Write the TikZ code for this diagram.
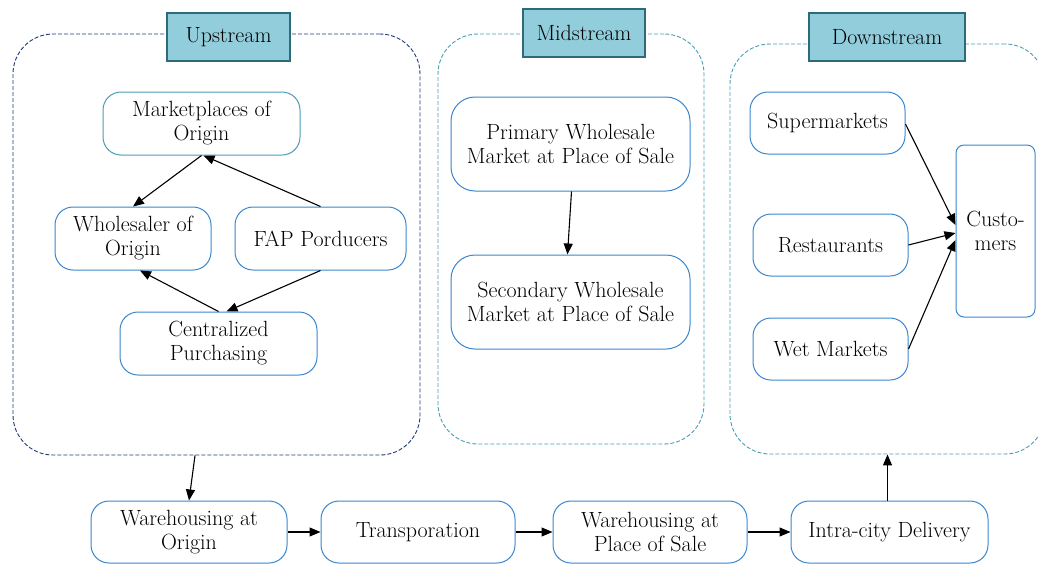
\documentclass[tikz,border=0pt]{standalone}
\usetikzlibrary{arrows.meta}
\definecolor{navyd}{HTML}{1F3A7A}
\definecolor{tealc}{HTML}{4A9DB5}
\definecolor{labfill}{HTML}{92CDDC}
\definecolor{labdraw}{HTML}{2E6B7A}
\definecolor{boxblue}{HTML}{3A87CF}
\tikzset{
  every node/.style={font=\fontsize{22}{24}\selectfont, align=center, inner sep=0pt},
  container/.style={draw, line width=0.9pt, dash pattern=on 4pt off 2pt, rounded corners=40pt},
  lab/.style={draw=labdraw, fill=labfill, line width=1.2pt},
  box/.style={draw=boxblue, line width=1pt, rounded corners=18pt, fill=white},
  arr/.style={-{Triangle[length=11pt,width=9pt]}, line width=1.1pt, black},
}
\begin{document}
\begin{tikzpicture}[x=1pt,y=-1pt]
\useasboundingbox (0,0) rectangle (1038,563);
\clip (0,0) rectangle (1038,563);
% containers
\node[container, draw=navyd, minimum width=407, minimum height=421] (up) at (216.5,244.5) {};
\node[container, draw=tealc, minimum width=266, minimum height=410] (mid) at (571,239) {};
\node[container, draw=tealc, minimum width=315, minimum height=410] (down) at (887.5,249) {};
% labels
\node[lab, minimum width=123, minimum height=48] (lup) at (228.5,37) {Upstream};
\node[lab, minimum width=122, minimum height=48] (lmid) at (584,33) {Midstream};
\node[lab, minimum width=156, minimum height=48] (ldown) at (887,37) {Downstream};
% upstream
\node[box, draw=tealc, minimum width=197, minimum height=63] (mk) at (201.5,123.5) {Marketplaces of\\Origin};
\node[box, minimum width=156, minimum height=63] (ws) at (133,238.5) {Wholesaler of\\Origin};
\node[box, minimum width=171, minimum height=63] (fap) at (320.5,238.5) {FAP Porducers};
\node[box, minimum width=197, minimum height=63] (cp) at (218.5,343.5) {Centralized\\Purchasing};
% midstream
\node[box, minimum width=239, minimum height=94, rounded corners=24pt] (pr) at (570.5,144) {Primary Wholesale\\Market at Place of Sale};
\node[box, minimum width=239, minimum height=94, rounded corners=24pt] (se) at (570.5,302) {Secondary Wholesale\\Market at Place of Sale};
% downstream
\node[box, minimum width=155, minimum height=62] (sm) at (827.5,123) {Supermarkets};
\node[box, minimum width=155, minimum height=62] (re) at (830.5,245) {Restaurants};
\node[box, minimum width=155, minimum height=62] (wm) at (830.5,349) {Wet Markets};
\node[box, minimum width=79, minimum height=172, rounded corners=8pt] (cu) at (995.5,231) {Custo-\\mers};
% bottom row
\node[box, minimum width=196, minimum height=62] (w1) at (189,532) {Warehousing at\\Origin};
\node[box, minimum width=194, minimum height=62] (tr) at (418,532) {Transporation};
\node[box, minimum width=194, minimum height=62] (w2) at (650,532) {Warehousing at\\Place of Sale};
\node[box, minimum width=197, minimum height=62] (ic) at (889.5,532) {Intra-city Delivery};
% arrows upstream
\draw[arr] (mk.south) -- (ws.north);
\draw[arr] (fap.north) -- ([xshift=2pt]mk.south);
\draw[arr] (cp.north) -- ([xshift=7pt]ws.south);
\draw[arr] (fap.south) -- ([xshift=8pt]cp.north);
% midstream
\draw[arr] ([xshift=1pt]pr.south) -- ([xshift=-3pt]se.north);
% downstream
\draw[arr] ([yshift=-1pt]sm.east) -- ([yshift=6pt]cu.west);
\draw[arr] (re.east) -- ([yshift=-2pt]cu.west);
\draw[arr] (wm.east) -- ([yshift=-9pt]cu.west);
% bottom
\draw[arr] ([xshift=-21.5pt]up.south) -- (w1.north);
\draw[arr] (w1.east) -- (tr.west);
\draw[arr] (tr.east) -- (w2.west);
\draw[arr] (w2.east) -- (ic.west);
\draw[arr] ([xshift=-2pt]ic.north) -- ([xshift=-2pt]ic.north |- down.south);
\end{tikzpicture}
\end{document}
